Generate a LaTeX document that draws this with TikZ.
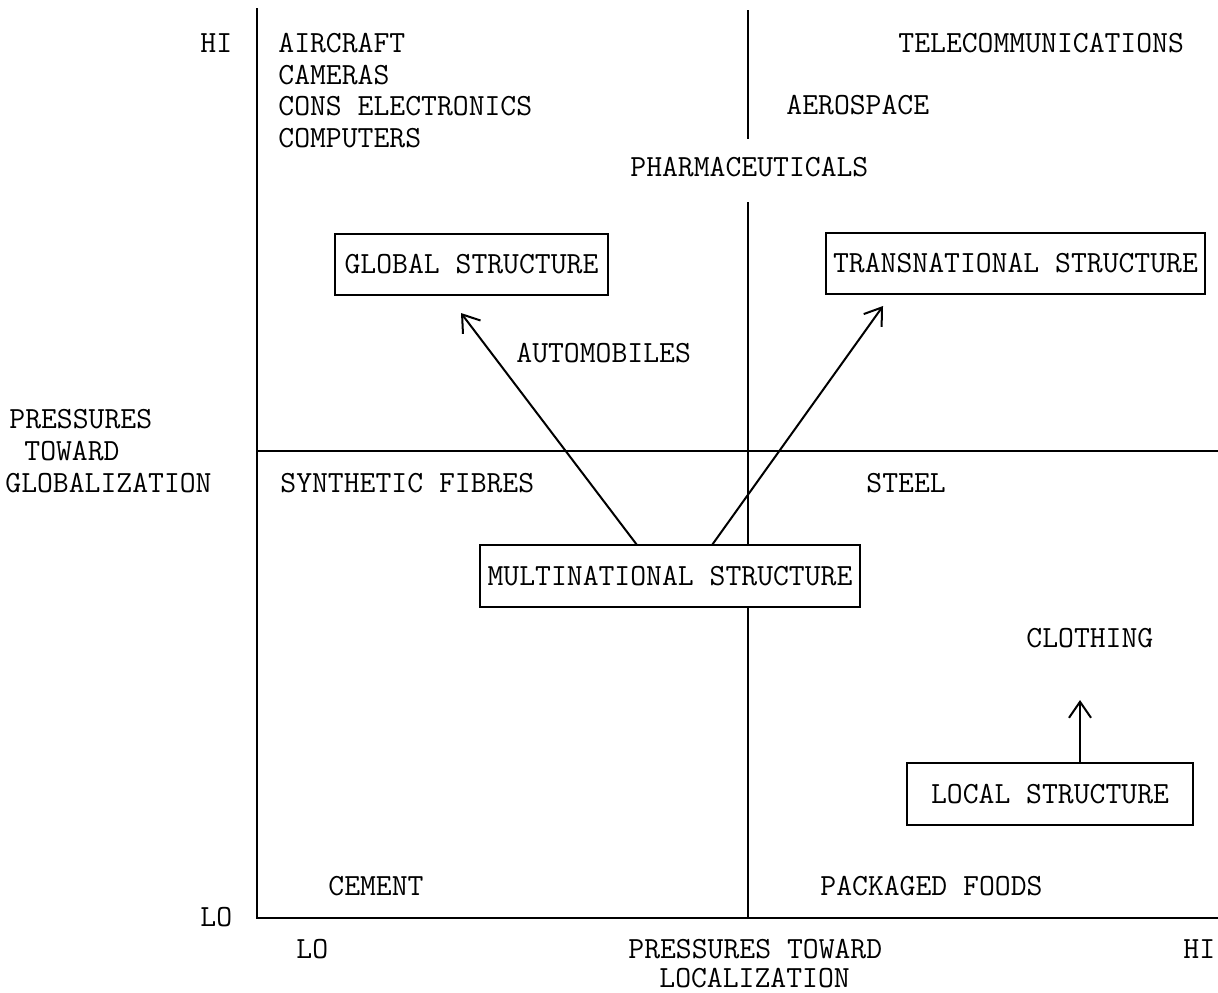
\documentclass[tikz,border=0pt]{standalone}
\usepackage{fontspec}
\usetikzlibrary{arrows.meta}
\begin{document}
\begin{tikzpicture}[x=0.5pt,y=-0.5pt,
  every node/.style={font=\ttfamily\fontsize{15.4}{18}\selectfont},
  lbl/.style={anchor=base west,inner sep=0pt},
  sbox/.style={draw,line width=1pt,inner sep=0pt,minimum height=30.5pt},
  axis/.style={line width=1pt},
  arr/.style={line width=1pt,-{Straight Barb[length=8pt,width=11pt,line width=1pt]}}]
\useasboundingbox[fill=white] (0,0) rectangle (1218,992);

% axes and quadrant dividers
\coordinate (ytop) at (257,8);
\coordinate (orig) at (257,918);
\coordinate (xend) at (1218,918);
\draw[axis] (ytop) -- (orig) -- (xend);
\coordinate (hl) at (257,451);
\coordinate (hr) at (1218,451);
\draw[axis] (hl) -- (hr);

% structure boxes
\node[sbox,minimum width=136.5pt] (global) at (471.5,264) {GLOBAL STRUCTURE};
\node[sbox,minimum width=189.5pt] (trans) at (1015.5,263) {TRANSNATIONAL STRUCTURE};
\node[sbox,minimum width=190pt,minimum height=31pt] (multi) at (670,576) {MULTINATIONAL STRUCTURE};
\node[sbox,minimum width=143pt,minimum height=31pt] (local) at (1050,794) {LOCAL STRUCTURE};

% central vertical divider, broken around the pharmaceuticals label and the box
\coordinate (v1) at (748,10);
\coordinate (v2) at (748,139);
\coordinate (v3) at (748,202);
\draw[axis] (v1) -- (v2);
\draw[axis] (v3) -- (v3 |- multi.north);
\draw[axis] (multi.south -| v1) -- (orig -| v1);

% labels on the vertical axis
\node[lbl] (hiy) at (200,52) {HI};
\node[lbl] (loy) at (200,926) {LO};
\node[lbl] (py1) at (9,428) {PRESSURES};
\node[lbl] (py2) at (24,460) {TOWARD};
\node[lbl] (py3) at (5,492) {GLOBALIZATION};

% labels on the horizontal axis
\node[lbl] (lox) at (296,958) {LO};
\node[lbl] (px1) at (628,958) {PRESSURES TOWARD};
\node[lbl] (px2) at (659,987) {LOCALIZATION};
\node[lbl] (hix) at (1183,958) {HI};

% industries
\node[lbl] (air) at (278,52) {AIRCRAFT};
\node[lbl] (cam) at (278,84) {CAMERAS};
\node[lbl] (cons) at (278,115) {CONS ELECTRONICS};
\node[lbl] (comp) at (278,147) {COMPUTERS};
\node[lbl] (tele) at (898,52) {TELECOMMUNICATIONS};
\node[lbl] (aero) at (786,114) {AEROSPACE};
\node[lbl] (pharma) at (630,176) {PHARMACEUTICALS};
\node[lbl] (auto) at (516,362) {AUTOMOBILES};
\node[lbl] (synth) at (280,492) {SYNTHETIC FIBRES};
\node[lbl] (steel) at (866,492) {STEEL};
\node[lbl] (cloth) at (1026,647) {CLOTHING};
\node[lbl] (cement) at (328,895) {CEMENT};
\node[lbl] (foods) at (820,895) {PACKAGED FOODS};

% evolution arrows
\coordinate (m1) at (637,545);
\coordinate (m2) at (712,545);
\coordinate (gtip) at (461,313);
\coordinate (ttip) at (883,306);
\coordinate (ltail) at (1080,763);
\coordinate (ltip) at (1080,700);
\draw[arr] (m1) -- (gtip);
\draw[arr] (m2) -- (ttip);
\draw[arr] (ltail) -- (ltip);
\end{tikzpicture}
\end{document}
